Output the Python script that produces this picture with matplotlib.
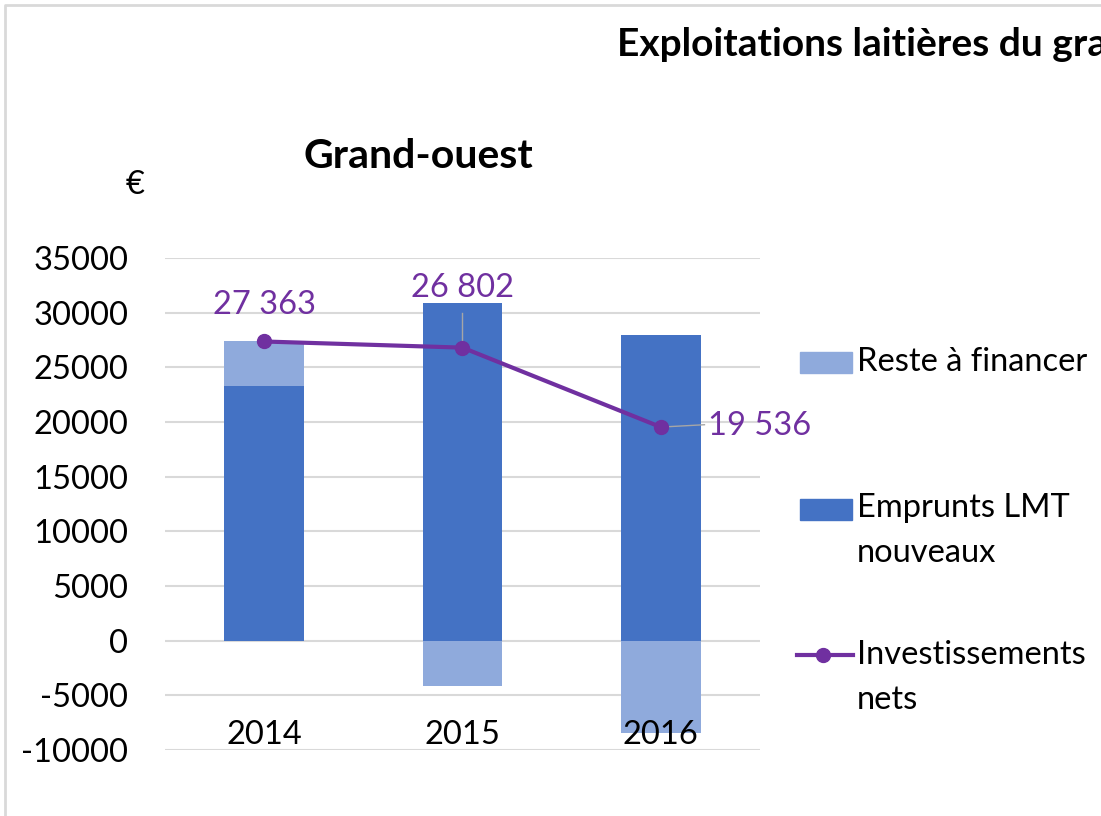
import numpy as np
import matplotlib
matplotlib.use("Agg")
import matplotlib.pyplot as plt
from matplotlib.patches import Rectangle
from matplotlib.lines import Line2D

plt.rcParams['font.family'] = ['Lato', 'DejaVu Sans']

years = ['2014', '2015', '2016']
emprunts = np.array([23300, 30904, 28000])
reste = np.array([4063, -4102, -8464])
invest = np.array([27363, 26802, 19536])
inv_labels = ['27 363', '26 802', '19 536']
yticks = list(range(-10000, 35001, 5000))

c_emp = '#4472C4'
c_reste = '#8FAADC'
c_line = '#7030A0'
c_grid = '#D9D9D9'
FS = 23.5

W, H = 1101, 816
fig = plt.figure(figsize=(W / 100, H / 100), dpi=100)
ax = fig.add_axes([165 / W, (H - 750) / H, (760 - 165) / W, (750 - 258) / H])

x = np.arange(len(years))
ax.bar(x, emprunts, width=0.4, color=c_emp, zorder=2)
bottom = np.where(reste >= 0, emprunts, 0)
ax.bar(x, reste, width=0.4, bottom=bottom, color=c_reste, zorder=2)
ax.plot(x, invest, color=c_line, lw=3, marker='o', ms=10, zorder=4)

ax.set_xlim(-0.5, 2.5)
ax.set_ylim(-10000, 35000)
ax.set_yticks(yticks)
ax.set_yticklabels([str(v) for v in yticks], fontsize=FS)
ax.set_xticks([])
ax.tick_params(axis='y', length=0, pad=26.5)
for s in ax.spines.values():
    s.set_visible(False)
ax.grid(axis='y', color=c_grid, lw=1.5, zorder=0)
ax.set_axisbelow(True)

for i, yr in enumerate(years):
    ax.text(i, -8600, yr, ha='center', va='center', fontsize=FS, zorder=5)

# data labels
ax.text(0, 30700, inv_labels[0], ha='center', va='center', fontsize=FS, color=c_line)
ax.text(1, 32300, inv_labels[1], ha='center', va='center', fontsize=FS, color=c_line)
ax.plot([1, 1], [26802, 30000], color='#A6A6A6', lw=1, zorder=3)
ax.text(2.24, 19650, inv_labels[2], ha='left', va='center', fontsize=FS, color=c_line)
ax.plot([2, 2.22], [19536, 19750], color='#A6A6A6', lw=1, zorder=3)

# titles (the main title is cut by the image edge in the reference)
fig.text(617 / W, 1 - 45 / H, 'Exploitations laitières du gra', fontsize=28,
         fontweight='bold', ha='left', va='center')
fig.text(418 / W, 1 - 157 / H, 'Grand-ouest', fontsize=29.5, fontweight='bold',
         ha='center', va='center')
fig.text(135 / W, 1 - 185 / H, '€', fontsize=FS, ha='center', va='center')

# legend (manual, Excel style)
fig.patches.append(Rectangle((800 / W, 1 - 373 / H), 52 / W, 21 / H,
                             transform=fig.transFigure, color=c_reste))
fig.text(857 / W, 1 - 362 / H, 'Reste à financer', fontsize=FS, ha='left', va='center')
fig.patches.append(Rectangle((800 / W, 1 - 520 / H), 52 / W, 21 / H,
                             transform=fig.transFigure, color=c_emp))
fig.text(857 / W, 1 - 508 / H, 'Emprunts LMT', fontsize=FS, ha='left', va='center')
fig.text(857 / W, 1 - 553 / H, 'nouveaux', fontsize=FS, ha='left', va='center')
fig.lines.append(Line2D([797 / W, 853 / W], [1 - 655 / H, 1 - 655 / H],
                        transform=fig.transFigure, color=c_line, lw=3))
fig.lines.append(Line2D([823 / W], [1 - 655 / H], transform=fig.transFigure,
                        color=c_line, marker='o', ms=10))
fig.text(857 / W, 1 - 655 / H, 'Investissements', fontsize=FS, ha='left', va='center')
fig.text(857 / W, 1 - 700 / H, 'nets', fontsize=FS, ha='left', va='center')

# outer frame
fig.lines.append(Line2D([5 / W, 5 / W, 1.0], [0, 1 - 5 / H, 1 - 5 / H],
                        transform=fig.transFigure, color='#D9D9D9', lw=2))

fig.savefig('out.png', dpi=100)
